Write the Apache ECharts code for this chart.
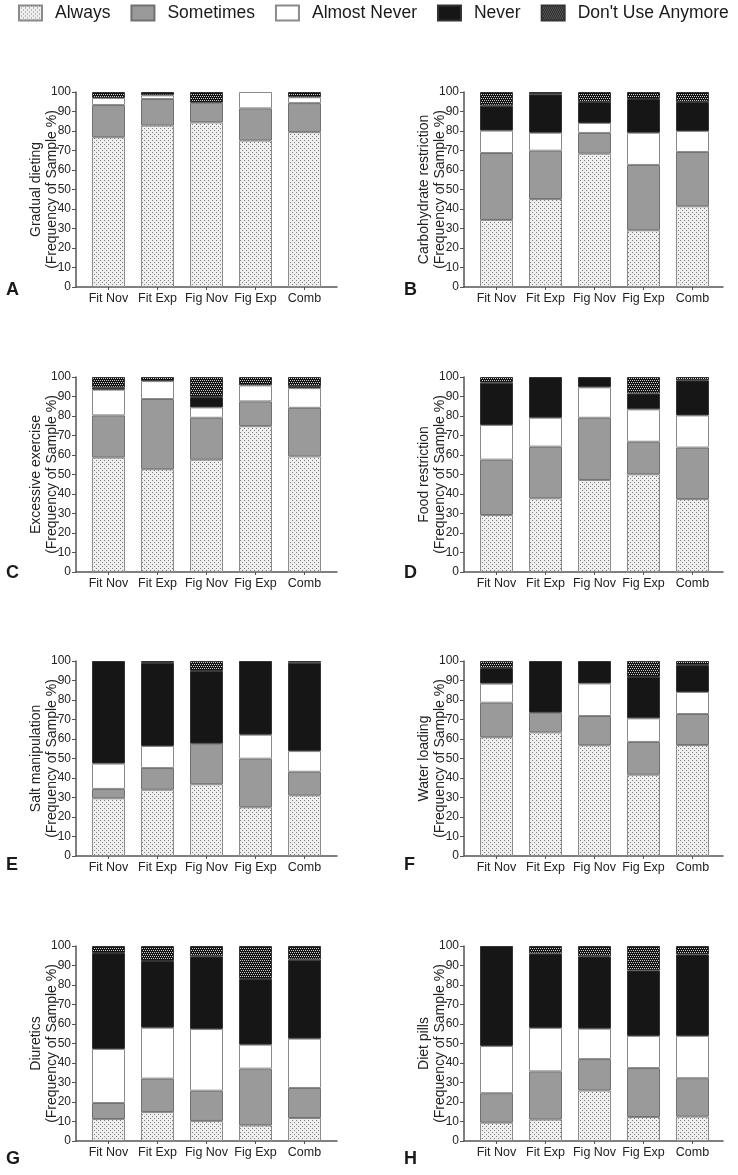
<!DOCTYPE html>
<html>
<head>
<meta charset="utf-8">
<script src="https://cdn.jsdelivr.net/npm/echarts@6/dist/echarts.min.js"></script>
<style>
  html, body { margin: 0; padding: 0; background: #fff; }
  #chart { width: 738px; height: 1175px; }
</style>
</head>
<body>
<div id="chart"></div>
<script>
// ---- categories / labels ----
const categories = ['Fit Nov', 'Fit Exp', 'Fig Nov', 'Fig Exp', 'Comb'];
const seriesNames = ['Always', 'Sometimes', 'Almost Never', 'Never', "Don't Use Anymore"];
const panelTitles = ['Gradual dieting', 'Carbohydrate restriction', 'Excessive exercise', 'Food restriction',
                     'Salt manipulation', 'Water loading', 'Diuretics', 'Diet pills'];
const panelLetters = ['A', 'B', 'C', 'D', 'E', 'F', 'G', 'H'];
const yTicks = [0, 10, 20, 30, 40, 50, 60, 70, 80, 90, 100];

// ---- data (segment sizes, % of sample) ----
// A Gradual dieting
const gradualAlways      = [76.8, 82.8, 84.4, 75.1, 79.4];
const gradualSometimes   = [16.5, 13.6, 10.1, 16.5, 14.9];
const gradualAlmostNever = [3.6, 1.9, 0, 8.4, 3.0];
const gradualNever       = [0, 0, 0, 0, 0];
const gradualDontUse     = [3.1, 1.7, 5.5, 0, 2.7];
// B Carbohydrate restriction
const carbAlways      = [34.4, 45.1, 68.4, 29.1, 41.4];
const carbSometimes   = [34.3, 24.8, 10.6, 33.5, 27.8];
const carbAlmostNever = [11.5, 9.2, 5.1, 16.5, 10.8];
const carbNever       = [12.8, 19.7, 10.8, 17.3, 14.9];
const carbDontUse     = [7.0, 1.2, 5.1, 3.6, 5.1];
// C Excessive exercise
const exerAlways      = [58.7, 52.7, 57.6, 74.8, 59.3];
const exerSometimes   = [21.6, 36.0, 21.5, 12.7, 24.9];
const exerAlmostNever = [13.2, 9.2, 5.3, 8.2, 10.1];
const exerNever       = [1.0, 0, 5.3, 0, 1.0];
const exerDontUse     = [5.5, 2.1, 10.3, 4.3, 4.7];
// D Food restriction
const foodAlways      = [29.2, 37.8, 47.2, 50.1, 37.4];
const foodSometimes   = [28.4, 26.5, 31.9, 16.7, 26.4];
const foodAlmostNever = [17.8, 14.8, 15.6, 16.6, 16.5];
const foodNever       = [21.7, 20.9, 5.3, 8.1, 18.0];
const foodDontUse     = [2.9, 0, 0, 8.5, 1.7];
// E Salt manipulation
const saltAlways      = [29.6, 34.0, 36.8, 25.0, 31.1];
const saltSometimes   = [4.8, 11.1, 20.8, 24.9, 12.1];
const saltAlmostNever = [13.0, 11.3, 0, 12.3, 10.6];
const saltNever       = [52.6, 42.6, 37.3, 37.8, 45.3];
const saltDontUse     = [0, 1.0, 5.1, 0, 0.9];
// F Water loading
const waterAlways      = [60.9, 63.4, 56.8, 41.7, 56.9];
const waterSometimes   = [17.7, 10.1, 15.0, 16.8, 15.9];
const waterAlmostNever = [9.8, 0, 16.7, 12.1, 11.3];
const waterNever       = [8.0, 26.5, 11.5, 21.2, 13.8];
const waterDontUse     = [3.6, 0, 0, 8.2, 2.1];
// G Diuretics
const diurAlways      = [11.3, 14.9, 10.3, 8.0, 11.8];
const diurSometimes   = [8.2, 17.1, 15.5, 29.1, 15.4];
const diurAlmostNever = [27.7, 26.1, 31.6, 12.3, 25.3];
const diurNever       = [49.2, 34.2, 37.3, 33.7, 40.5];
const diurDontUse     = [3.6, 7.7, 5.3, 16.9, 7.0];
// H Diet pills
const pillAlways      = [9.4, 11.0, 25.9, 12.3, 12.5];
const pillSometimes   = [15.1, 24.7, 16.1, 25.1, 19.7];
const pillAlmostNever = [24.2, 22.3, 15.6, 16.5, 21.7];
const pillNever       = [51.3, 38.1, 37.1, 33.6, 41.8];
const pillDontUse     = [0, 3.9, 5.3, 12.5, 4.3];

const panelData = [
  [gradualAlways, gradualSometimes, gradualAlmostNever, gradualNever, gradualDontUse],
  [carbAlways, carbSometimes, carbAlmostNever, carbNever, carbDontUse],
  [exerAlways, exerSometimes, exerAlmostNever, exerNever, exerDontUse],
  [foodAlways, foodSometimes, foodAlmostNever, foodNever, foodDontUse],
  [saltAlways, saltSometimes, saltAlmostNever, saltNever, saltDontUse],
  [waterAlways, waterSometimes, waterAlmostNever, waterNever, waterDontUse],
  [diurAlways, diurSometimes, diurAlmostNever, diurNever, diurDontUse],
  [pillAlways, pillSometimes, pillAlmostNever, pillNever, pillDontUse]
];

// ---- styling ----
const FONT = "'Liberation Sans', Arial, Helvetica, sans-serif";
function dotPattern(bg, dot, pts) {
  const c = document.createElement('canvas');
  c.width = 4; c.height = 4;
  const g = c.getContext('2d');
  g.fillStyle = bg; g.fillRect(0, 0, 4, 4);
  g.fillStyle = dot;
  pts.forEach(p => g.fillRect(p[0], p[1], 1, 1));
  return c;
}
const fills = [
  { image: dotPattern('#efefef', '#7c7c7c', [[0, 0], [2, 2]]), repeat: 'repeat' },
  '#9a9a9a',
  '#ffffff',
  '#161616',
  { image: dotPattern('#131313', '#cfcfcf', [[0, 0], [2, 0], [1, 2], [3, 2]]), repeat: 'repeat' }
];
const borders = ['#8a8a8a', '#707070', '#8a8a8a', '#333333', '#333333'];
const AXIS = '#555555';

// ---- layout ----
const rowTops = [92, 377, 661, 946];
const plotH = 195;
const gridLefts = [84, 472];
const gridW = 245;
const axisLefts = [76, 464];
const axisWidths = [261, 259];
const letterLeft = [6, 404];
const letterCenterY = [291, 574, 866, 1160];

const grids = [], xAxes = [], yAxes = [], series = [], titles = [];
panelTitles.forEach((pt, i) => {
  const row = Math.floor(i / 2), col = i % 2;
  const gMain = grids.length;
  grids.push({ left: gridLefts[col], top: rowTops[row], width: gridW, height: plotH,
               containLabel: false, outerBoundsMode: 'none' });
  const gLine = grids.length;
  grids.push({ left: axisLefts[col], top: rowTops[row], width: axisWidths[col], height: plotH,
               containLabel: false, outerBoundsMode: 'none' });

  xAxes.push({
    type: 'category', gridIndex: gMain, data: categories,
    axisLine: { show: false },
    axisTick: { show: true, alignWithLabel: true, length: 3, lineStyle: { color: AXIS, width: 1 } },
    axisLabel: { interval: 0, margin: 5, fontSize: 12.5, color: '#222', fontFamily: FONT }
  });
  xAxes.push({
    type: 'value', gridIndex: gLine, min: 0, max: 1,
    axisLine: { show: true, onZero: false, lineStyle: { color: AXIS, width: 1.5 } },
    axisTick: { show: false }, axisLabel: { show: false }, splitLine: { show: false }
  });
  yAxes.push({
    type: 'value', gridIndex: gMain, min: yTicks[0], max: yTicks[yTicks.length - 1], interval: 10,
    offset: 8,
    axisLine: { show: true, lineStyle: { color: AXIS, width: 1.5 } },
    axisTick: { show: true, length: 4, lineStyle: { color: AXIS, width: 1 } },
    axisLabel: { margin: 5, fontSize: 12, color: '#222', fontFamily: FONT },
    splitLine: { show: false },
    name: pt + '\n(Frequency of Sample %)',
    nameLocation: 'middle', nameRotate: 90, nameGap: 15.5, nameMoveOverlap: false,
    nameTextStyle: { fontSize: 14, lineHeight: 16, color: '#222', fontFamily: FONT }
  });
  yAxes.push({ type: 'value', gridIndex: gLine, show: false, min: 0, max: 1 });

  panelData[i].forEach((vals, s) => {
    series.push({
      name: seriesNames[s], type: 'bar', stack: 'p' + i,
      xAxisIndex: gMain, yAxisIndex: gMain,
      barWidth: 33,
      data: vals.map(v => (v === 0 ? '-' : v)),
      itemStyle: { color: fills[s], borderColor: borders[s], borderWidth: 1 },
      emphasis: { disabled: true },
      animation: false
    });
  });

  titles.push({
    text: panelLetters[i], left: letterLeft[col], top: letterCenterY[row] - 10, padding: 0,
    textStyle: { fontSize: 18, fontWeight: 'bold', color: '#1a1a1a', fontFamily: FONT }
  });
});

const chart = echarts.init(document.getElementById('chart'), null, { renderer: 'canvas' });
chart.setOption({
  animation: false,
  backgroundColor: '#ffffff',
  title: titles,
  legend: {
    data: seriesNames, left: 18, top: 4, padding: 0,
    itemWidth: 23, itemHeight: 15, itemGap: 20,
    icon: 'rect',
    textStyle: { fontSize: 17.5, color: '#1a1a1a', fontFamily: FONT, padding: [0, 0, 0, 8] },
    selectedMode: false
  },
  grid: grids,
  xAxis: xAxes,
  yAxis: yAxes,
  series: series
});
</script>
</body>
</html>
